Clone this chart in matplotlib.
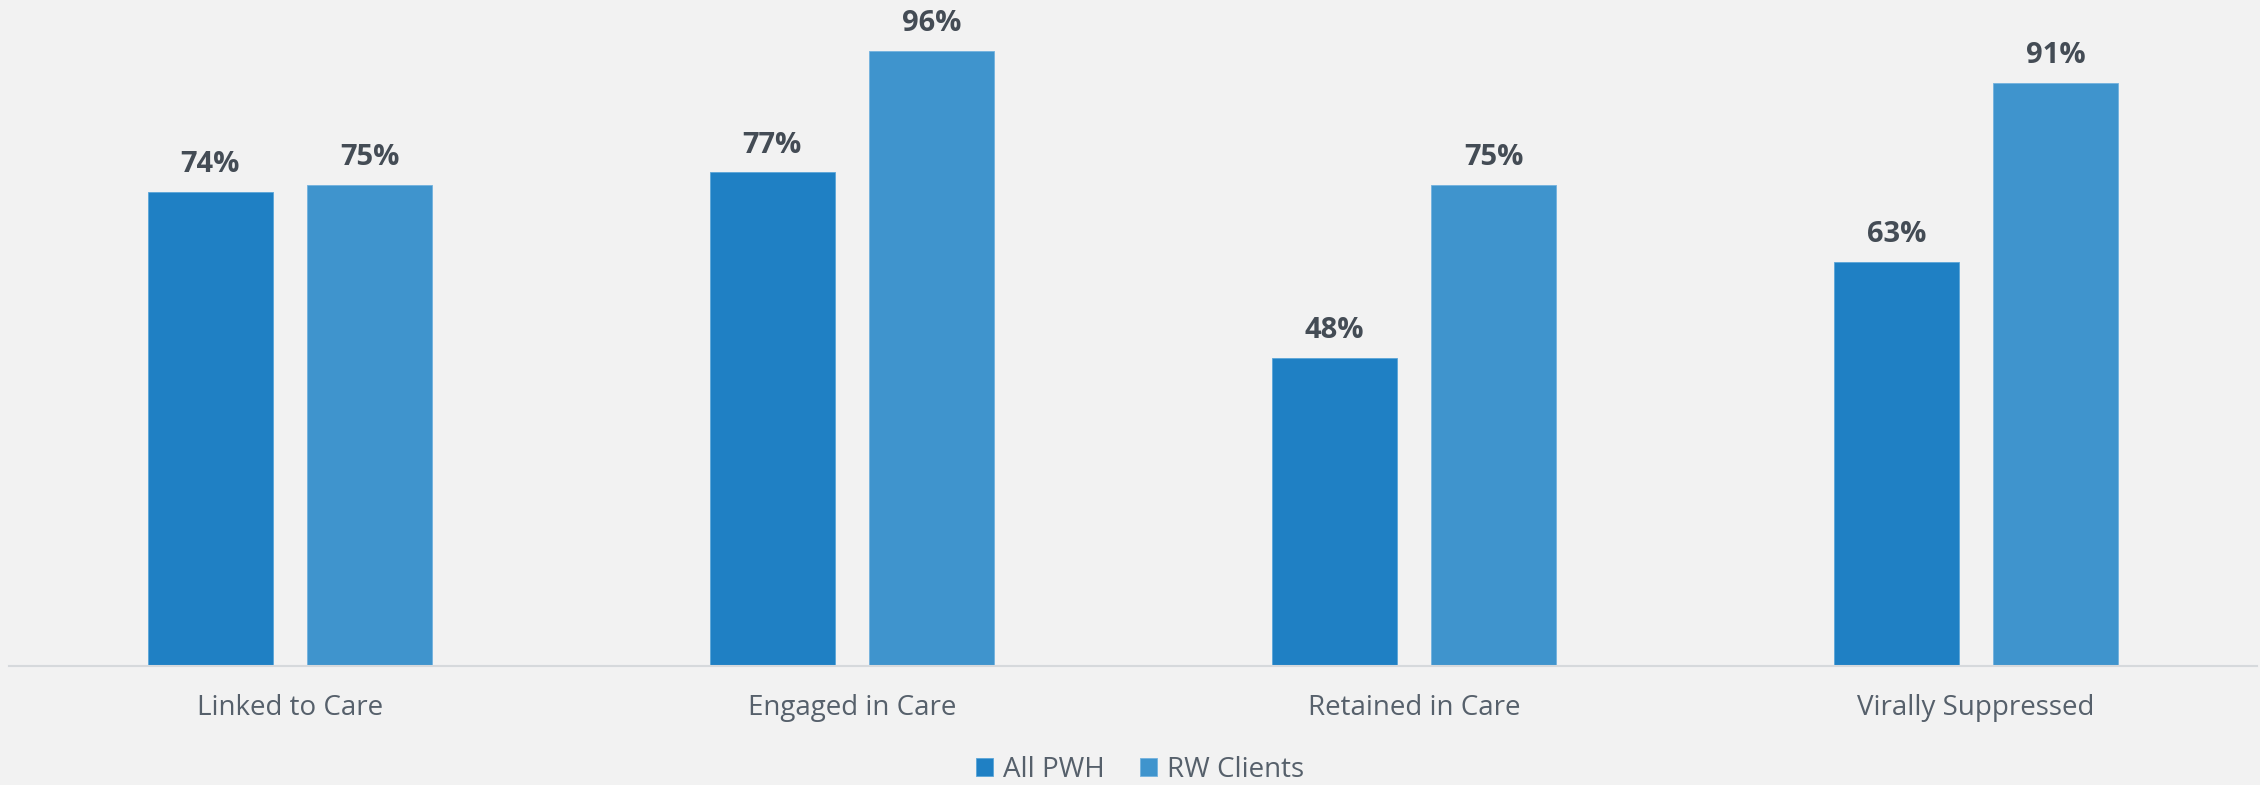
import matplotlib.pyplot as plt
import numpy as np

categories = ['Linked to Care', 'Engaged in Care', 'Retained in Care', 'Virally Suppressed']
all_pwh = [74, 77, 48, 63]
rw_clients = [75, 96, 75, 91]
series_names = ['All PWH', 'RW Clients']

plt.rcParams['font.family'] = ['Open Sans', 'DejaVu Sans']

bg = '#F2F2F2'
c1 = '#1F80C4'
c2 = '#3F94CD'

fig = plt.figure(figsize=(22.6, 7.85), dpi=100, facecolor=bg)
ax = fig.add_axes([9 / 2260, 119 / 785, 2248 / 2260, 641 / 785])
ax.set_facecolor(bg)

x = np.arange(len(categories))
w = 0.222
off = 0.142
b1 = ax.bar(x - off, all_pwh, w, color=c1, edgecolor='#5AA5D8', linewidth=0.6, label=series_names[0])
b2 = ax.bar(x + off, rw_clients, w, color=c2, edgecolor='#72B2DE', linewidth=0.6, label=series_names[1])

for bars, vals in ((b1, all_pwh), (b2, rw_clients)):
    for r, v in zip(bars, vals):
        ax.text(r.get_x() + r.get_width() / 2, v + 2.0, f'{v}%', ha='center', va='bottom',
                fontsize=21, fontweight='bold', color='#444C55')

ax.set_xlim(-0.5, len(categories) - 0.5)
ax.set_ylim(0, 100)
ax.set_yticks([])
ax.set_xticks(x)
ax.set_xticklabels(categories, fontsize=20, color='#56606B')
ax.tick_params(axis='x', length=0, pad=20)
for s in ('top', 'right', 'left'):
    ax.spines[s].set_visible(False)
ax.spines['bottom'].set_color('#D6D9DC')
ax.spines['bottom'].set_linewidth(1.5)

leg = fig.legend(loc='center', bbox_to_anchor=(1140 / 2260, 1 - 770 / 785), ncol=2, frameon=False,
                 fontsize=20, handlelength=0.6, handleheight=0.6, handletextpad=0.35, columnspacing=1.3)
for t in leg.get_texts():
    t.set_color('#56606B')

fig.savefig('out.png', dpi=100, facecolor=bg)
